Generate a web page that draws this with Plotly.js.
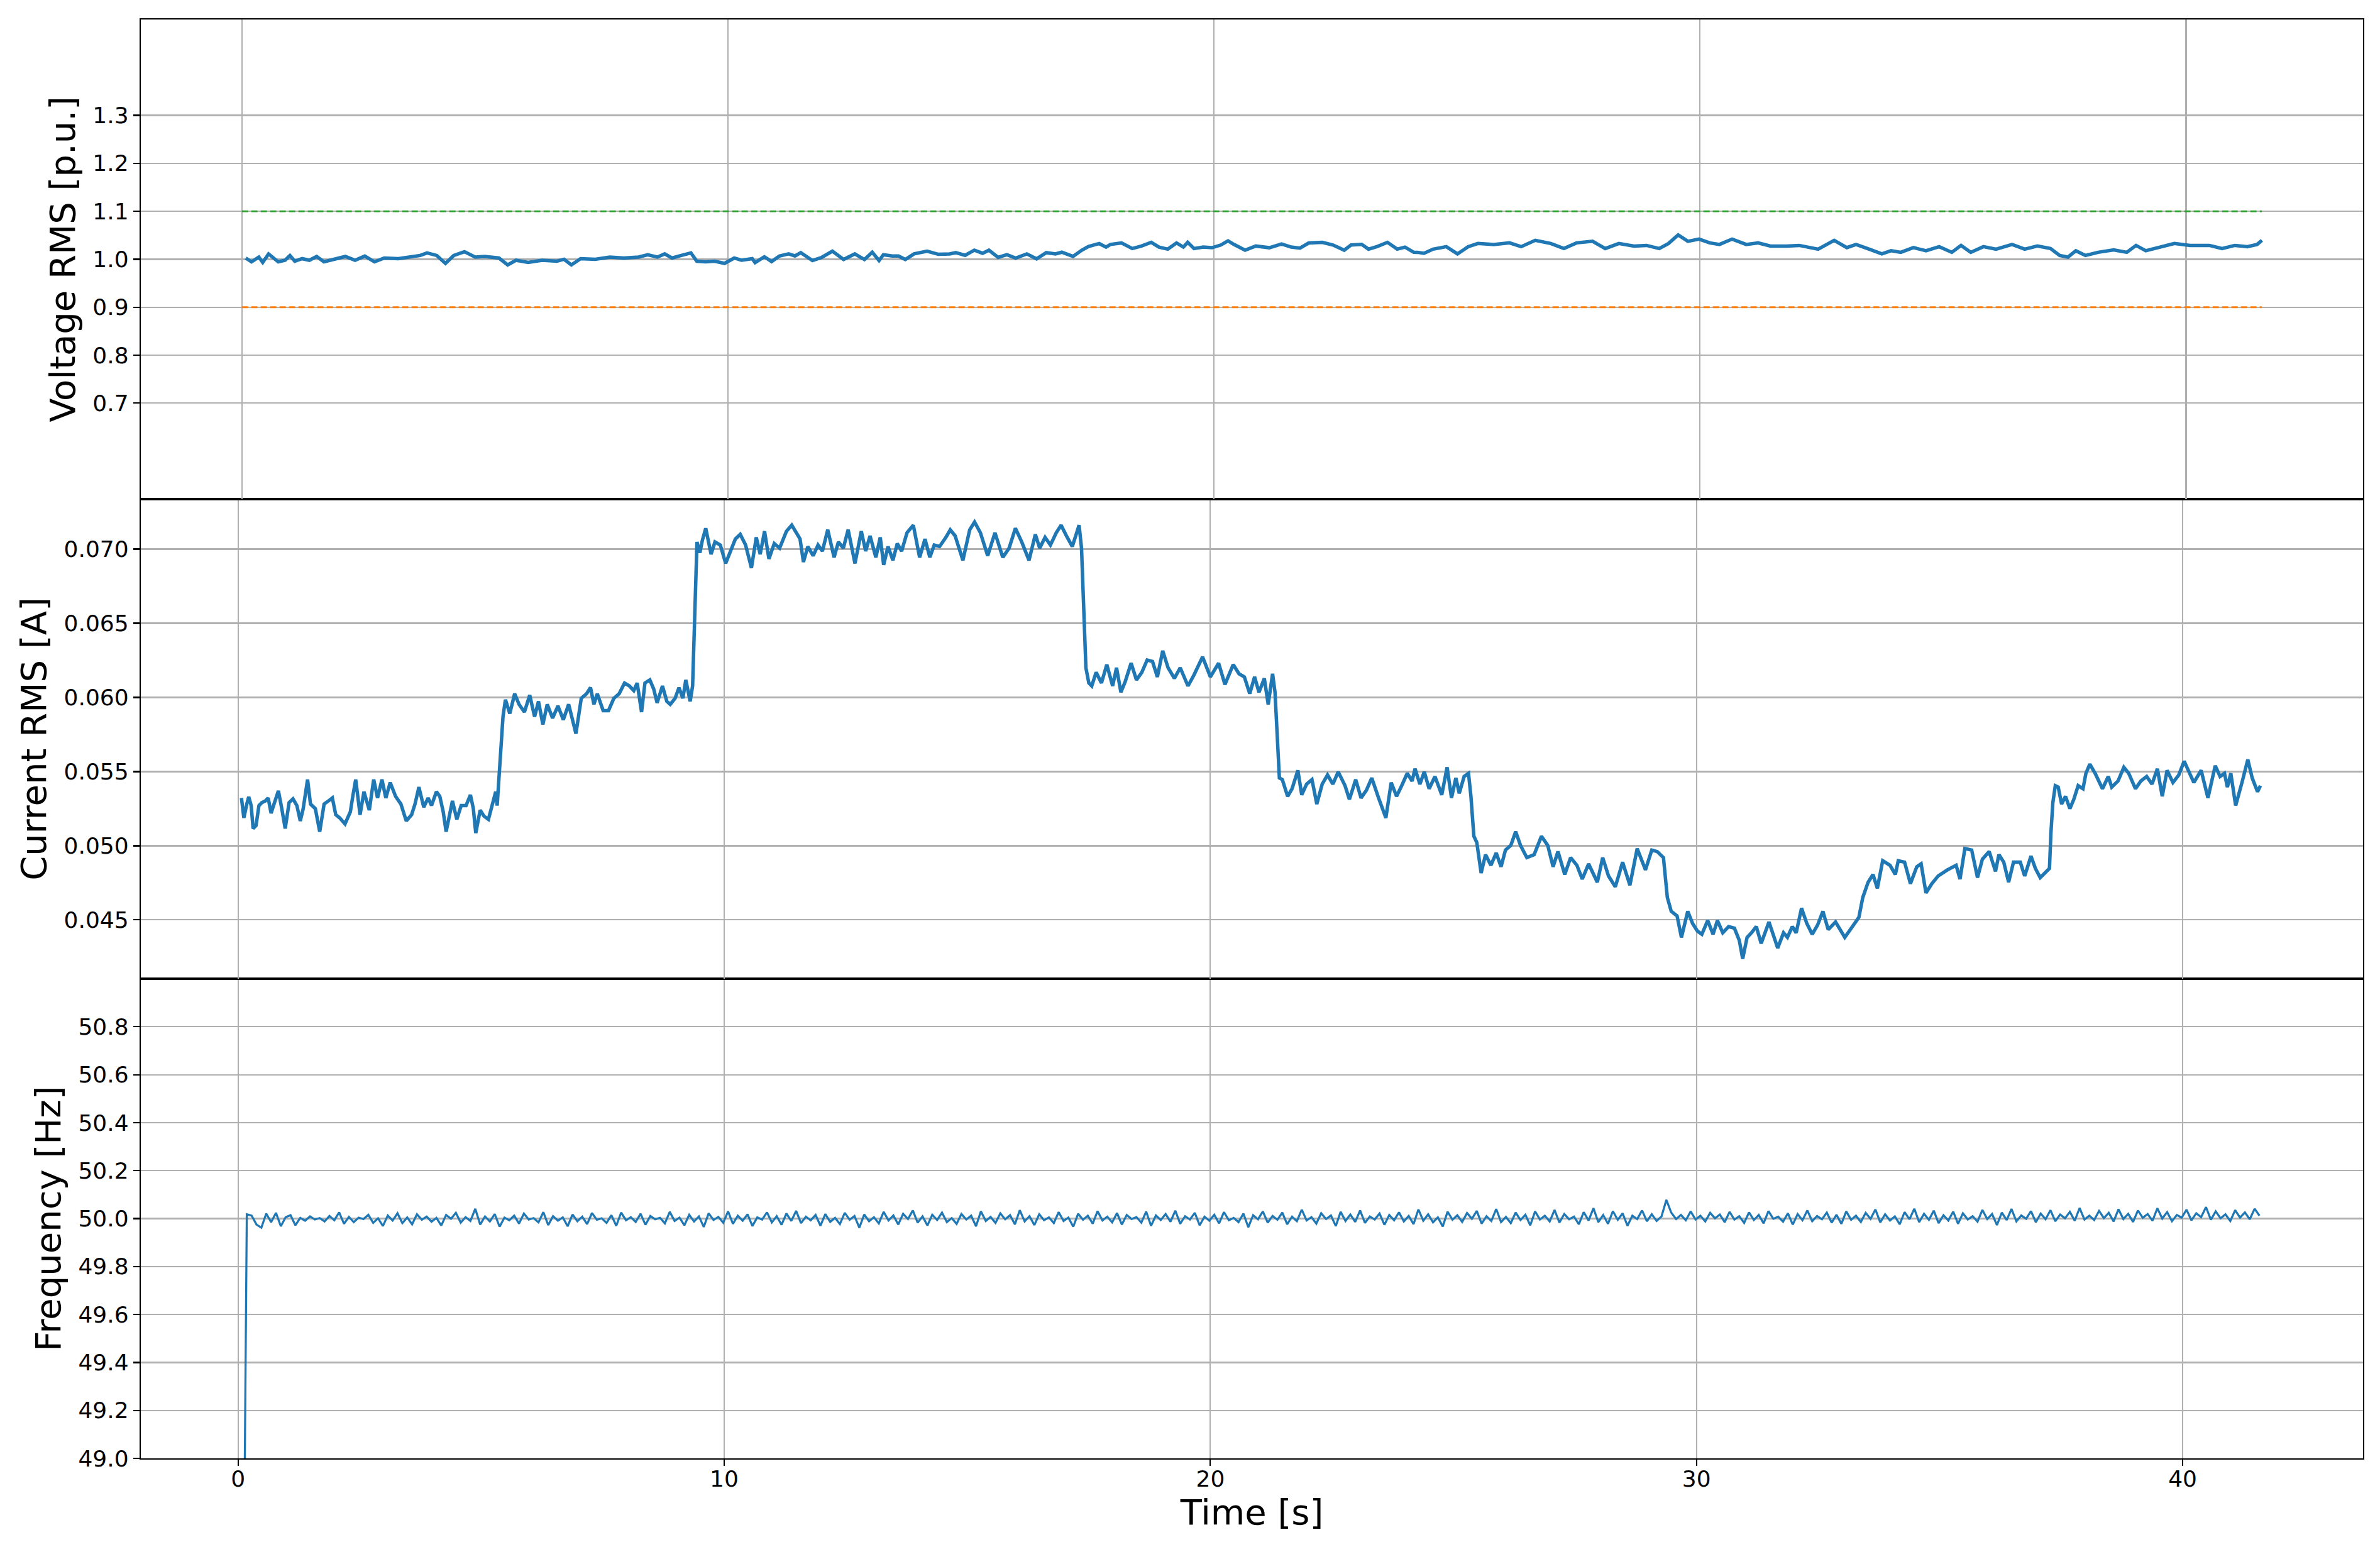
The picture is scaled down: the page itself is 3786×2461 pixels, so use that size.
<!DOCTYPE html>
<html>
<head>
<meta charset="utf-8">
<script src="https://cdn.plot.ly/plotly-3.0.1.min.js"></script>
<style>html,body{margin:0;padding:0;background:#fff}#chart{width:3786px;height:2461px}</style>
</head>
<body>
<div id="chart"></div>
<script>
// ---- Voltage RMS [p.u.] (top panel) ----
const voltageT = [
0.08,0.20,0.35,0.43,0.55,0.75,0.89,0.99,1.09,1.24,1.39,1.54,1.69,1.94,2.13,2.33,2.53,2.73,2.93,3.22,
3.52,3.67,3.81,4.01,4.19,4.36,4.58,4.80,5.00,5.29,5.47,5.64,5.89,6.18,6.48,6.63,6.78,6.97,7.27,7.57,
7.86,8.16,8.35,8.55,8.70,8.85,9.04,9.24,9.36,9.54,9.73,9.93,10.13,10.28,10.50,
10.56,10.75,10.90,11.06,11.25,11.38,11.50,11.74,11.93,12.15,12.38,12.61,12.81,12.97,13.11,13.20,13.38,13.51,13.65,13.83,
14.10,14.33,14.56,14.69,14.88,15.07,15.24,15.37,15.56,15.74,15.92,16.15,16.35,16.55,16.74,16.87,17.10,17.28,17.42,17.64,
17.78,17.87,18.10,18.32,18.51,18.71,18.87,19.05,19.23,19.37,19.46,19.59,19.78,19.96,20.14,20.29,20.41,20.64,20.86,21.14,
21.39,21.59,21.77,21.95,22.23,22.45,22.68,22.82,23.04,23.18,23.36,23.57,23.77,23.93,24.11,
24.19,24.32,24.51,24.78,25.01,25.23,25.43,25.76,26.08,26.32,26.61,26.93,27.20,27.46,27.79,28.05,28.33,28.64,28.90,29.16,
29.35,29.55,29.75,29.98,30.20,30.40,30.66,30.95,31.19,31.45,31.78,32.04,32.43,32.76,33.02,33.21,33.48,33.74,33.93,34.13,
34.39,34.65,34.92,35.18,35.37,35.57,35.83,36.09,36.42,36.68,36.94,37.21,37.40,37.57,37.73,37.93,38.19,38.51,38.78,38.97,
39.17,39.50,39.76,40.08,40.48,40.74,41.00,41.26,41.46,41.56
];
const voltagePU = [
1.0026,0.9947,1.0046,0.9934,1.0112,0.9947,0.9980,1.0079,0.9960,1.0013,0.9980,1.0059,0.9947,1.0013,1.0059,0.9980,1.0066,0.9947,1.0026,1.0013,
1.0046,1.0079,1.0132,1.0079,0.9914,1.0079,1.0158,1.0046,1.0059,1.0026,0.9882,0.9980,0.9934,0.9980,0.9960,1.0000,0.9882,1.0013,1.0000,1.0046,
1.0026,1.0046,1.0092,1.0046,1.0112,1.0026,1.0079,1.0132,0.9960,0.9947,0.9960,0.9914,1.0026,0.9980,1.0013,
0.9931,1.0052,0.9953,1.0069,1.0112,1.0069,1.0138,0.9974,1.0039,1.0168,0.9996,1.0112,0.9996,1.0147,0.9974,1.0095,1.0069,1.0069,0.9996,1.0112,
1.0168,1.0103,1.0112,1.0138,1.0082,1.0190,1.0125,1.0190,1.0039,1.0095,1.0026,1.0112,1.0009,1.0138,1.0112,1.0147,1.0060,1.0190,1.0267,1.0328,
1.0254,1.0310,1.0340,1.0224,1.0276,1.0353,1.0254,1.0211,1.0340,1.0254,1.0353,1.0224,1.0254,1.0241,1.0297,1.0384,1.0310,1.0190,1.0276,1.0241,
1.0319,1.0254,1.0233,1.0340,1.0353,1.0297,1.0190,1.0297,1.0310,1.0211,1.0267,1.0353,1.0211,1.0254,1.0147,
1.0145,1.0125,1.0211,1.0263,1.0112,1.0263,1.0329,1.0309,1.0342,1.0263,1.0395,1.0329,1.0224,1.0342,1.0375,1.0224,1.0329,1.0276,1.0289,1.0224,
1.0329,1.0507,1.0375,1.0421,1.0342,1.0309,1.0421,1.0309,1.0342,1.0276,1.0276,1.0289,1.0211,1.0395,1.0243,1.0309,1.0211,1.0112,1.0178,1.0145,
1.0243,1.0178,1.0263,1.0145,1.0289,1.0145,1.0263,1.0211,1.0309,1.0211,1.0276,1.0224,1.0079,1.0046,1.0178,1.0079,1.0145,1.0197,1.0145,1.0289,
1.0178,1.0263,1.0329,1.0289,1.0289,1.0224,1.0289,1.0263,1.0309,1.0395
];
const limitT = [0, 41.56];
const upperLimitPU = [1.1, 1.1];
const lowerLimitPU = [0.9, 0.9];

// ---- Current RMS [A] (middle panel) ----
const currentT = [
0.07,0.12,0.18,0.22,0.27,0.31,0.37,0.43,0.49,0.56,
0.62,0.68,0.74,0.83,0.90,0.97,1.05,1.13,1.21,1.28,
1.34,1.43,1.49,1.59,1.68,1.77,1.86,1.94,2.01,2.09,
2.20,2.31,2.36,2.42,2.51,2.59,2.70,2.79,2.87,2.96,
3.04,3.13,3.24,3.35,3.46,3.57,3.64,3.72,3.82,3.91,
3.98,4.08,4.15,4.22,4.28,4.35,4.41,4.50,4.59,4.69,
4.78,4.84,4.89,4.98,5.06,5.15,5.23,5.30,5.33,5.38,
5.42,5.45,5.50,5.59,5.69,5.78,5.89,6.00,6.10,6.18,
6.27,6.36,6.47,6.58,6.69,6.80,6.88,6.95,7.06,7.17,
7.25,7.32,7.39,7.51,7.62,7.73,7.84,7.95,8.05,8.14,
8.21,8.30,8.37,8.47,8.55,8.62,8.73,8.82,8.89,8.99,
9.07,9.15,9.21,9.30,9.35,9.38,9.41,9.44,9.50,9.55,
9.62,9.73,9.81,9.92,10.03,10.14,10.23,10.33,10.44,10.56,
10.66,10.74,10.83,10.92,11.03,11.14,11.28,11.39,
11.46,11.56,11.63,11.72,11.83,11.93,12.02,12.13,12.26,12.35,
12.45,12.55,12.69,12.82,12.91,13.00,13.12,13.21,13.28,13.37,
13.47,13.56,13.65,13.76,13.89,14.02,14.13,14.23,14.32,14.43,
14.56,14.65,14.75,14.84,14.91,15.05,15.15,15.27,15.42,15.57,
15.73,15.86,15.99,16.12,16.27,16.40,16.49,16.60,16.71,16.83,
16.93,17.04,17.16,17.24,17.30,17.35,17.38,17.41,17.44,17.50,
17.56,17.65,17.76,17.87,17.99,18.07,18.16,18.25,18.37,18.48,
18.59,18.70,18.81,18.91,19.02,19.13,19.26,19.38,19.54,19.66,
19.84,20.00,20.17,20.30,20.47,20.59,20.70,20.81,20.91,21.00,
21.11,21.19,21.28,21.33,21.37,21.42,21.48,21.59,21.68,21.80,
21.88,21.98,22.09,22.19,22.30,22.41,22.52,22.63,22.77,
22.86,22.99,23.10,23.21,23.32,23.46,23.61,23.72,23.83,23.95,
24.05,24.15,24.21,24.31,24.40,24.50,24.62,24.76,24.87,24.96,
25.05,25.12,25.22,25.31,25.36,25.42,25.48,25.57,25.66,25.77,
25.88,25.98,26.07,26.18,26.28,26.38,26.51,26.66,26.81,26.94,
27.05,27.15,27.29,27.41,27.54,27.65,27.78,27.96,28.07,28.19,
28.33,28.48,28.63,28.78,28.95,29.08,29.19,29.32,29.40,29.48,
29.60,29.69,29.82,29.92,30.02,30.11,30.23,30.34,30.43,30.54,
30.66,30.78,30.88,30.95,31.04,31.13,31.23,31.33,31.49,31.67,
31.79,31.87,31.97,32.05,32.16,32.27,32.38,32.49,32.60,32.71,
32.86,33.05,33.20,33.34,33.42,33.53,33.63,33.72,33.83,33.98,
34.09,34.15,
34.28,34.40,34.53,34.62,34.72,34.84,34.97,35.16,35.34,35.42,
35.52,35.66,35.78,35.88,36.02,36.15,36.22,36.32,36.42,36.52,
36.66,36.75,36.88,36.97,37.07,37.16,37.26,37.29,37.33,37.38,
37.44,37.51,37.59,37.68,37.76,37.85,37.95,38.01,38.09,38.20,
38.35,38.47,38.54,38.67,38.79,38.89,39.03,39.14,39.26,39.37,
39.48,39.58,39.68,39.80,39.92,40.03,40.11,40.23,40.38,40.52,
40.67,40.77,40.86,40.92,40.99,41.09,41.22,41.34,41.43,41.54,
41.60
];
const currentA = [
0.05322,0.05188,0.05281,0.05329,0.05271,0.05116,0.05136,0.05271,0.05291,0.05302,
0.05322,0.05219,0.05281,0.05370,0.05250,0.05116,0.05291,0.05316,0.05271,0.05167,
0.05250,0.05446,0.05281,0.05250,0.05095,0.05281,0.05302,0.05322,0.05209,0.05188,
0.05147,0.05229,0.05333,0.05446,0.05209,0.05364,0.05240,0.05446,0.05322,0.05446,
0.05322,0.05426,0.05333,0.05281,0.05167,0.05209,0.05281,0.05395,0.05260,0.05322,
0.05271,0.05364,0.05333,0.05229,0.05095,0.05209,0.05302,0.05178,0.05271,0.05271,
0.05343,0.05250,0.05085,0.05240,0.05199,0.05178,0.05271,0.05364,0.05271,0.05498,
0.05684,0.05870,0.05984,0.05891,0.06025,0.05953,0.05901,0.06015,0.05870,0.05973,
0.05818,0.05953,0.05860,0.05942,0.05849,0.05953,0.05849,0.05756,0.05994,0.06025,
0.06066,0.05953,0.06025,0.05911,0.05911,0.05994,0.06025,0.06097,0.06077,0.06046,
0.06097,0.05901,0.06097,0.06118,0.06056,0.05963,0.06077,0.05973,0.05953,0.05994,
0.06066,0.05994,0.06118,0.05973,0.06077,0.06428,0.06800,0.07048,0.06975,0.07058,
0.07140,0.06965,0.07048,0.07027,0.06903,0.06986,0.07068,0.07099,0.07027,0.06872,
0.07079,0.06965,0.07120,0.06934,0.07037,0.07006,0.07120,0.07161,
0.07120,0.07068,0.06913,0.07017,0.06955,0.07027,0.06986,0.07130,0.06944,0.07048,
0.07006,0.07130,0.06903,0.07120,0.06986,0.07089,0.06944,0.07079,0.06893,0.07017,
0.06924,0.07037,0.06986,0.07110,0.07161,0.06944,0.07068,0.06944,0.07027,0.07017,
0.07079,0.07130,0.07089,0.06986,0.06924,0.07130,0.07182,0.07110,0.06955,0.07110,
0.06944,0.07006,0.07140,0.07048,0.06924,0.07099,0.07006,0.07079,0.07027,0.07110,
0.07161,0.07089,0.07017,0.07099,0.07161,0.07006,0.06717,0.06490,0.06200,0.06097,
0.06077,0.06169,0.06097,0.06221,0.06077,0.06200,0.06035,0.06108,0.06231,0.06118,
0.06169,0.06252,0.06242,0.06138,0.06314,0.06200,0.06128,0.06200,0.06077,0.06149,
0.06273,0.06138,0.06231,0.06087,0.06221,0.06159,0.06138,0.06025,0.06138,0.06035,
0.06128,0.05953,0.06159,0.06035,0.05767,0.05457,0.05446,0.05333,0.05384,0.05508,
0.05343,0.05415,0.05446,0.05281,0.05415,0.05477,0.05415,0.05498,0.05405,
0.05312,0.05446,0.05322,0.05374,0.05457,0.05322,0.05188,0.05426,0.05333,0.05415,
0.05488,0.05436,0.05519,0.05415,0.05498,0.05384,0.05467,0.05343,0.05529,0.05322,
0.05457,0.05353,0.05467,0.05488,0.05333,0.05064,0.05023,0.04816,0.04940,0.04868,
0.04951,0.04858,0.04971,0.05002,0.05095,0.05002,0.04920,0.04940,0.05064,0.05002,
0.04858,0.04961,0.04806,0.04920,0.04868,0.04775,0.04878,0.04754,0.04920,0.04796,
0.04723,0.04889,0.04734,0.04981,0.04837,0.04971,0.04961,0.04920,0.04651,0.04558,
0.04527,0.04382,0.04558,0.04475,0.04424,0.04403,0.04496,0.04403,0.04496,0.04413,
0.04455,0.04444,0.04362,0.04238,0.04382,0.04413,0.04455,0.04341,0.04486,0.04310,
0.04413,0.04382,0.04455,0.04413,0.04579,0.04475,0.04403,0.04465,0.04558,0.04434,
0.04486,0.04382,0.04455,0.04517,0.04651,0.04754,0.04806,0.04713,0.04899,0.04868,
0.04806,0.04899,
0.04889,0.04744,0.04858,0.04878,0.04682,0.04744,0.04796,0.04837,0.04868,0.04775,
0.04981,0.04971,0.04785,0.04909,0.04961,0.04827,0.04940,0.04889,0.04754,0.04889,
0.04889,0.04796,0.04930,0.04847,0.04785,0.04816,0.04847,0.05085,0.05291,0.05405,
0.05395,0.05281,0.05333,0.05250,0.05312,0.05405,0.05384,0.05488,0.05550,0.05488,
0.05384,0.05467,0.05395,0.05436,0.05529,0.05488,0.05384,0.05436,0.05467,0.05415,
0.05519,0.05333,0.05508,0.05426,0.05477,0.05570,0.05508,0.05426,0.05508,0.05322,
0.05539,0.05467,0.05488,0.05395,0.05488,0.05271,0.05426,0.05581,0.05457,0.05364,
0.05405
];

// ---- Frequency [Hz] (bottom panel), sampled every 0.1 s from t = 0.08 s ----
const freqStartT = 0.08;
const freqStepT = 0.1;
const frequencyHz = [
47.5,50.018,50.012,49.975,49.962,50.021,49.985,50.024,49.968,50.006,
50.014,49.972,50.003,49.991,50.009,49.996,50.002,49.988,50.011,49.993,
50.026,49.978,50.007,49.985,50.004,49.998,50.016,49.982,50.001,49.969,
50.013,49.992,50.022,49.981,50.005,49.976,50.018,49.995,50.008,49.987,
50.003,49.971,50.015,49.999,50.024,49.983,50.006,49.990,50.041,49.975,
50.009,49.988,50.019,49.966,50.004,49.993,50.012,49.979,50.021,49.996,
50.002,49.984,50.027,49.973,50.010,49.991,50.005,49.968,50.017,49.989,
50.008,49.977,50.023,49.995,50.001,49.982,50.014,49.970,50.025,49.993,
50.006,49.986,50.020,49.974,50.011,49.997,50.003,49.980,50.028,49.990,
50.004,49.972,50.016,49.988,50.009,49.965,50.022,49.994,50.007,49.983,
50.030,49.978,50.012,49.991,50.018,49.969,50.005,49.996,50.026,49.984,
50.010,49.974,50.021,49.990,50.032,49.981,50.008,49.993,50.015,49.970,
50.019,49.986,50.003,49.977,50.024,49.995,50.011,49.962,50.017,49.989,
50.006,49.980,50.028,49.992,50.013,49.975,50.020,49.998,50.034,49.983,
50.009,49.971,50.016,49.994,50.025,49.985,50.002,49.978,50.019,49.996,
50.012,49.968,50.030,49.990,50.007,49.982,50.022,49.997,50.014,49.976,
50.035,49.988,50.010,49.973,50.018,49.993,50.005,49.981,50.027,49.990,
50.004,49.966,50.020,49.995,50.012,49.979,50.031,49.992,50.008,49.984,
50.023,49.975,50.015,49.998,50.006,49.983,50.029,49.970,50.013,49.994,
50.019,49.987,50.033,49.978,50.010,49.996,50.024,49.972,50.008,49.991,
50.016,49.980,50.027,49.993,50.003,49.985,50.021,49.964,50.014,49.997,
50.030,49.983,50.011,49.995,50.025,49.976,50.008,49.989,50.037,49.992,
50.006,49.979,50.022,49.998,50.013,49.969,50.028,49.990,50.017,49.986,
50.034,49.982,50.009,49.996,50.021,49.974,50.015,49.993,50.026,49.988,
50.011,49.977,50.038,49.991,50.018,49.984,50.005,49.967,50.029,49.995,
50.014,49.986,50.023,49.999,50.032,49.979,50.010,49.990,50.040,49.985,
50.007,49.981,50.025,49.994,50.016,49.972,50.030,49.996,50.012,49.988,
50.036,49.983,50.019,49.997,50.008,49.976,50.027,49.992,50.043,49.985,
50.015,49.978,50.031,49.995,50.022,49.970,50.012,49.998,50.034,49.989,
50.018,49.990,50.009,50.078,50.025,49.998,50.015,49.993,50.030,49.996,
50.012,49.988,50.024,50.001,50.017,49.985,50.028,49.996,50.010,49.982,
50.026,49.994,50.015,49.980,50.031,49.999,50.008,49.987,50.022,49.975,
50.019,49.993,50.034,49.989,50.011,49.997,50.025,49.983,50.016,49.978,
50.030,49.995,50.012,49.986,50.024,49.999,50.038,49.984,50.018,49.992,
50.009,49.976,50.027,49.997,50.041,49.985,50.020,49.995,50.033,49.981,
50.014,49.992,50.029,49.978,50.022,49.996,50.010,49.987,50.036,49.998,
50.019,49.973,50.025,49.994,50.040,49.988,50.013,49.999,50.031,49.985,
50.021,49.997,50.035,49.989,50.017,50.001,50.028,49.991,50.044,49.996,
50.012,49.994,50.032,50.002,50.024,49.988,50.039,49.998,50.020,49.986,
50.034,50.003,50.019,49.991,50.043,50.000,50.027,49.989,50.015,50.004,
50.037,49.993,50.022,50.006,50.048,49.995,50.030,50.001,50.018,49.990,
50.035,50.004,50.026,49.997,50.041,50.012
];

// ---- Tick values ----
const timeTicks = [0, 10, 20, 30, 40];
const voltageTicks = [0.7, 0.8, 0.9, 1.0, 1.1, 1.2, 1.3];
const currentTicks = [0.045, 0.050, 0.055, 0.060, 0.065, 0.070];
const freqTicks = [49.0, 49.2, 49.4, 49.6, 49.8, 50.0, 50.2, 50.4, 50.6, 50.8];

const FONT = 'DejaVu Sans';
const BLUE = '#1f77b4';

const traces = [
  {x: voltageT, y: voltagePU, xaxis: 'x3', yaxis: 'y3', type: 'scatter', mode: 'lines',
   line: {color: BLUE, width: 5.5}, hoverinfo: 'skip'},
  {x: limitT, y: upperLimitPU, xaxis: 'x3', yaxis: 'y3', type: 'scatter', mode: 'lines',
   line: {color: '#2ca02c', width: 2.8, dash: '10px,5px'}, hoverinfo: 'skip'},
  {x: limitT, y: lowerLimitPU, xaxis: 'x3', yaxis: 'y3', type: 'scatter', mode: 'lines',
   line: {color: '#ff7f0e', width: 2.8, dash: '10px,5px'}, hoverinfo: 'skip'},
  {x: currentT, y: currentA, xaxis: 'x2', yaxis: 'y2', type: 'scatter', mode: 'lines',
   line: {color: BLUE, width: 5.5}, hoverinfo: 'skip'},
  {x0: freqStartT, dx: freqStepT, y: frequencyHz, xaxis: 'x', yaxis: 'y', type: 'scatter', mode: 'lines',
   line: {color: BLUE, width: 3.3}, hoverinfo: 'skip'}
];

function axisBase() {
  return {
    showline: true, mirror: true, linecolor: '#000', linewidth: 2.2,
    showgrid: true, gridcolor: '#b0b0b0', gridwidth: 2.2, zeroline: false,
    ticks: 'outside', ticklen: 10, tickwidth: 2.2, tickcolor: '#000',
    tickfont: {family: FONT, size: 36, color: '#000'}, tickmode: 'array'
  };
}
const titleFont = {family: FONT, size: 56, color: '#000'};

const layout = {
  width: 3786, height: 2461,
  paper_bgcolor: '#ffffff', plot_bgcolor: '#ffffff',
  showlegend: false,
  margin: {l: 224, r: 27, t: 31, b: 141, pad: 0},
  font: {family: FONT, color: '#000'},
  xaxis: Object.assign(axisBase(), {
    domain: [0, 1], anchor: 'y', range: [-2.0, 43.71], tickvals: timeTicks,
    ticklabelstandoff: -10,
    title: {text: 'Time [s]', font: titleFont, standoff: 8}
  }),
  xaxis2: Object.assign(axisBase(), {
    domain: [0, 1], anchor: 'y2', matches: 'x', tickvals: timeTicks,
    showticklabels: false, ticks: ''
  }),
  xaxis3: Object.assign(axisBase(), {
    domain: [0, 1], anchor: 'y3', range: [-2.078, 43.64], tickvals: timeTicks,
    showticklabels: false, ticks: ''
  }),
  yaxis: Object.assign(axisBase(), {
    domain: [0, 0.3333], anchor: 'x', range: [49.0, 51.0], tickvals: freqTicks, tickformat: '.1f',
    title: {text: 'Frequency [Hz]', font: titleFont, standoff: 10}
  }),
  yaxis2: Object.assign(axisBase(), {
    domain: [0.3333, 0.6667], anchor: 'x2', range: [0.04103, 0.07337], tickvals: currentTicks, tickformat: '.3f',
    title: {text: 'Current RMS [A]', font: titleFont, standoff: 10}
  }),
  yaxis3: Object.assign(axisBase(), {
    domain: [0.6667, 1], anchor: 'x3', range: [0.5, 1.5], tickvals: voltageTicks, tickformat: '.1f',
    title: {text: 'Voltage RMS [p.u.]', font: titleFont, standoff: 10}
  })
};

Plotly.newPlot('chart', traces, layout, {displayModeBar: false, staticPlot: true});
</script>
</body>
</html>
